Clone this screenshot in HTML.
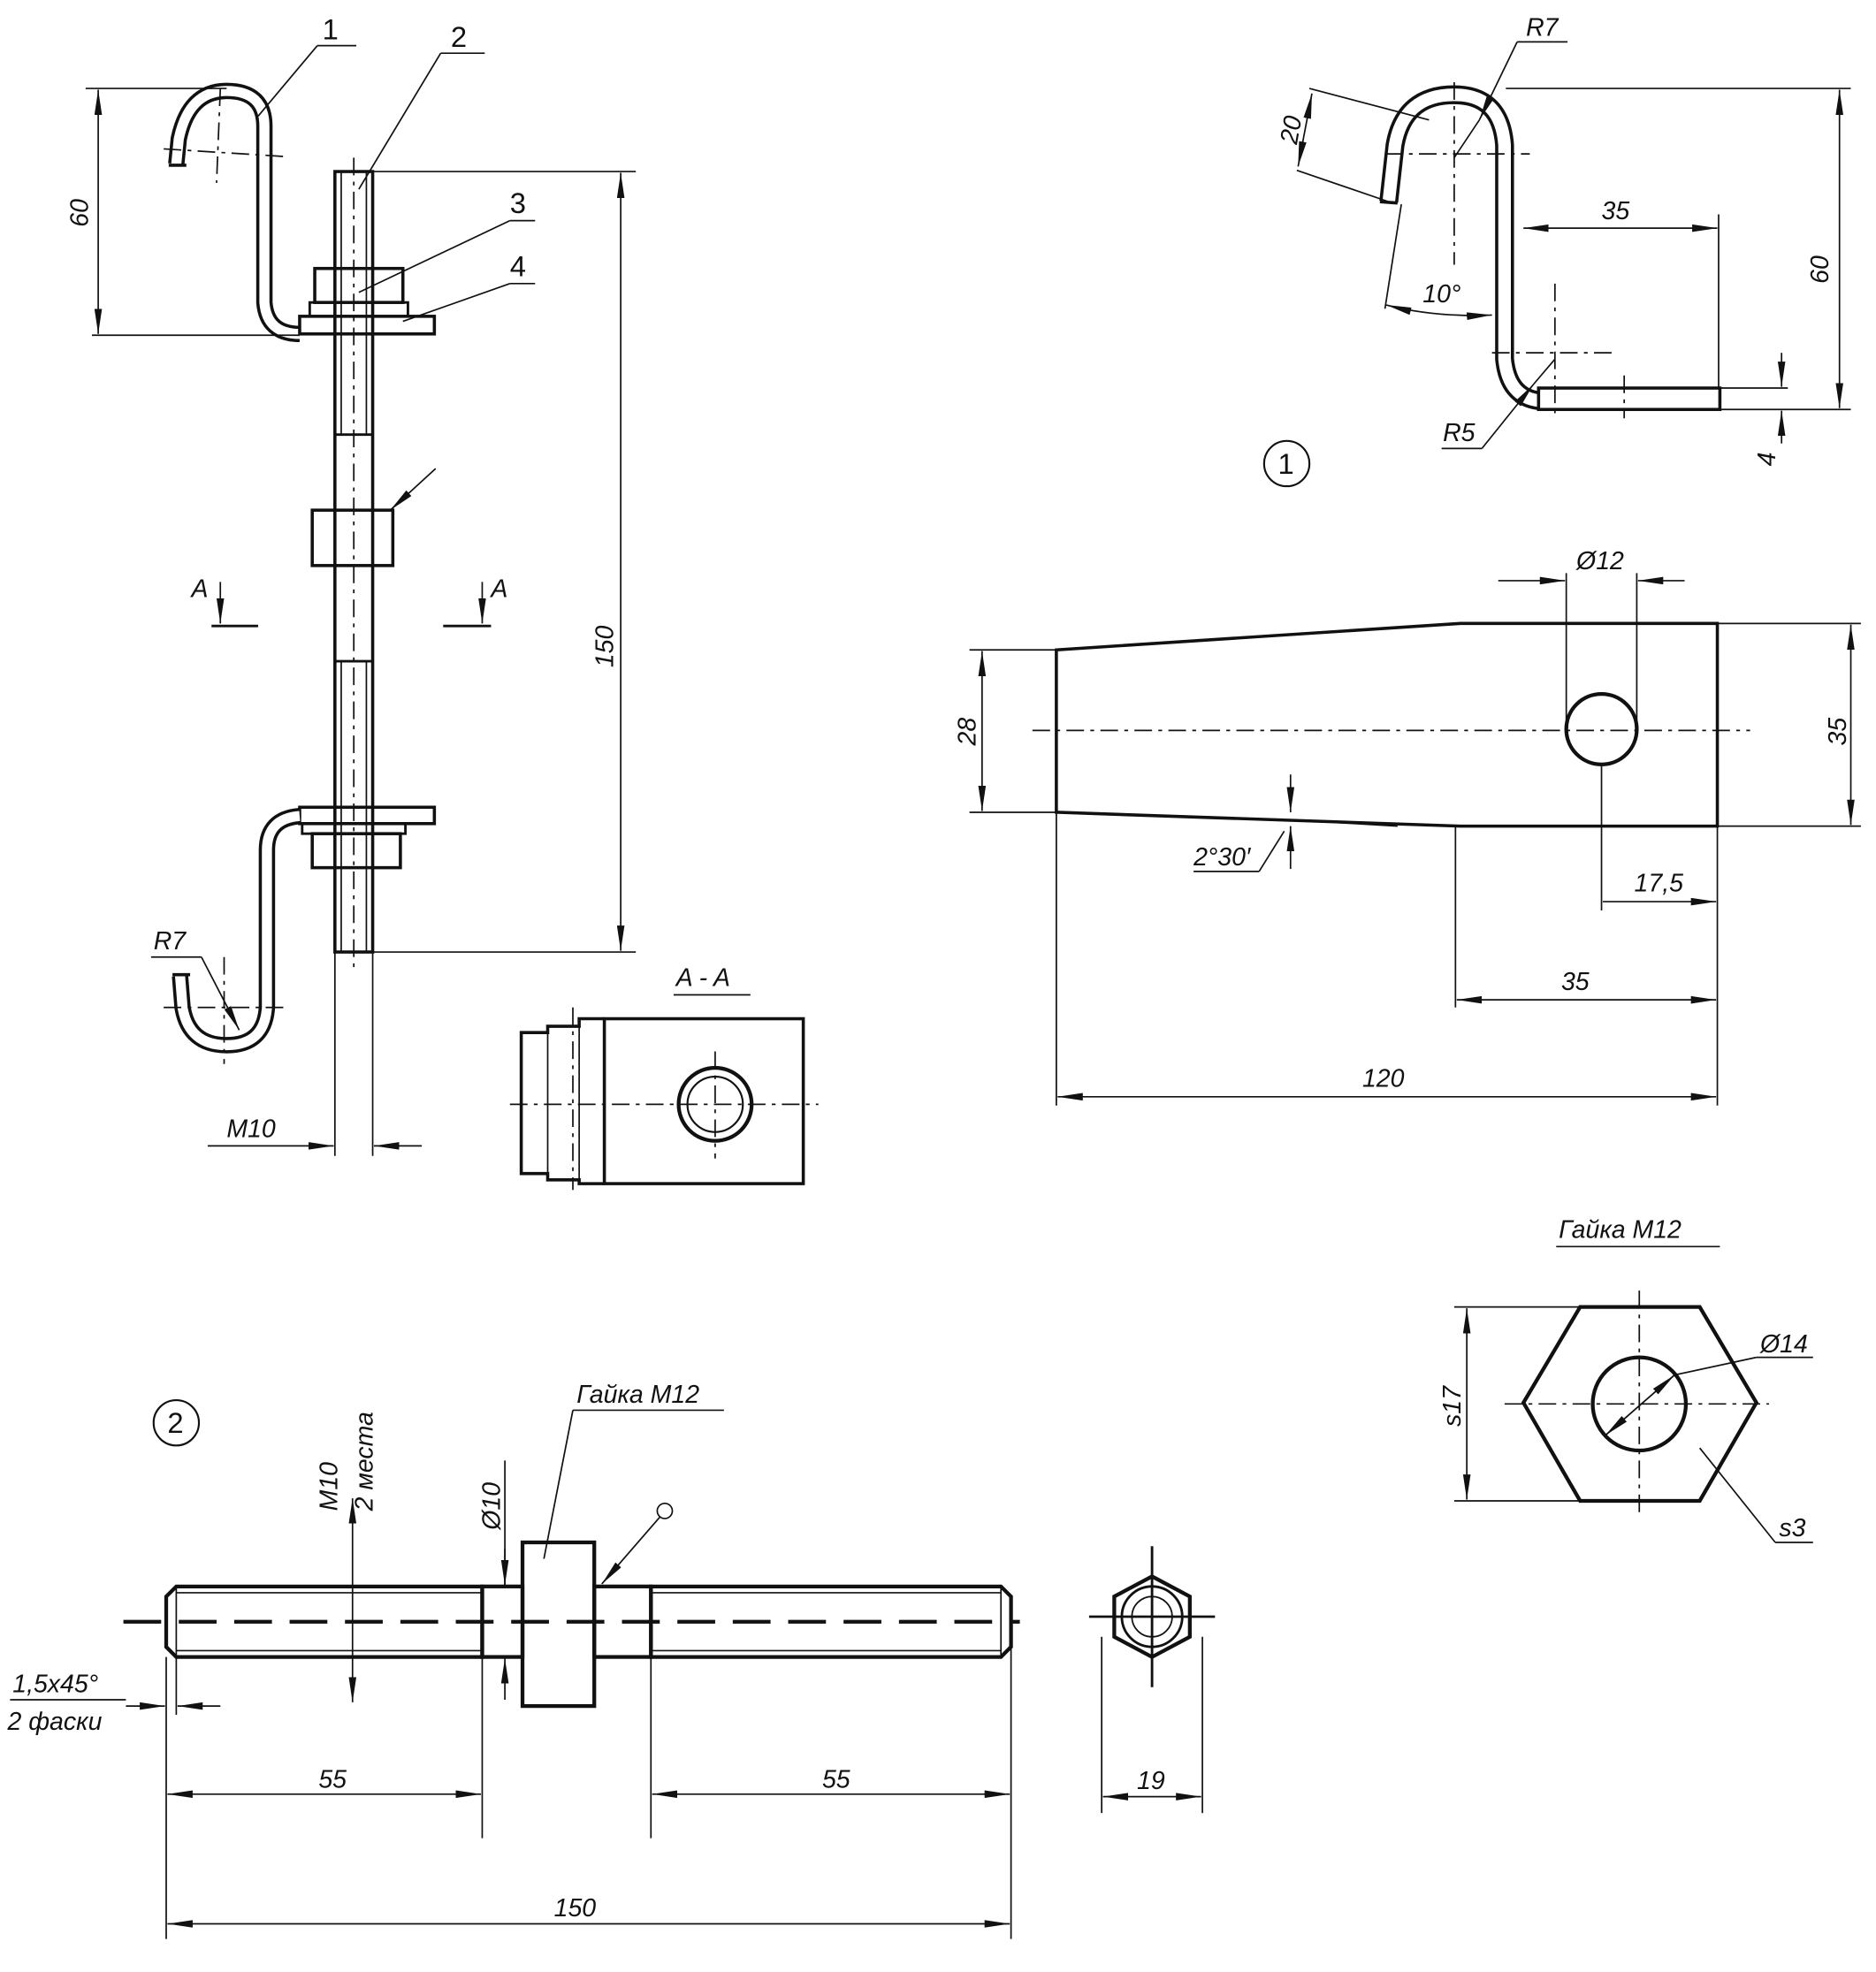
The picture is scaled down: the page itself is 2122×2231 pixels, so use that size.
<!DOCTYPE html>
<html><head><meta charset="utf-8"><style>
html,body{margin:0;padding:0;background:#fff}
svg{display:block}
text{font-family:"Liberation Sans","Noto Sans CJK SC",sans-serif;font-style:italic;font-size:20px;fill:#111}
.n{font-size:23px;font-style:normal}
.k{stroke:#111;stroke-width:3;fill:none}
.t{stroke:#111;stroke-width:1.2;fill:none}
.d{stroke:#111;stroke-width:1.2;fill:none;stroke-dasharray:14 5 3 5}
.a{stroke:#111;stroke-width:1.2;fill:none;marker-start:url(#ar);marker-end:url(#ar)}
.e{stroke:#111;stroke-width:1.2;fill:none;marker-end:url(#ar)}
</style></head><body>
<svg width="2122" height="2231" viewBox="0 0 1490 1566" xmlns="http://www.w3.org/2000/svg">
<defs><marker id="ar" viewBox="0 0 20 6" refX="20" refY="3" markerWidth="20" markerHeight="6" orient="auto-start-reverse" markerUnits="userSpaceOnUse"><path d="M0,0 L20,3 L0,6 Z" fill="#111"/></marker></defs>
<rect width="1490" height="1566" fill="#fff"/>

<!-- LEFT ASSEMBLY -->
<rect class="k" x="266" y="136" width="30" height="620" style="stroke-width:2.5"/>
<line class="t" x1="271" y1="136" x2="271" y2="345"/><line class="t" x1="291" y1="136" x2="291" y2="345"/>
<line class="k" x1="266" y1="345" x2="296" y2="345" style="stroke-width:2"/>
<line class="k" x1="266" y1="525" x2="296" y2="525" style="stroke-width:2"/>
<line class="t" x1="271" y1="525" x2="271" y2="756"/><line class="t" x1="291" y1="525" x2="291" y2="756"/>
<line class="d" x1="281" y1="125" x2="281" y2="770"/>
<path d="M140,130 L142,110 Q150,72 180,72 Q210,72 210,100 L210,240 Q212,265 238,265" fill="none" stroke="#111" stroke-width="13"/>
<path d="M140,130 L142,110 Q150,72 180,72 Q210,72 210,100 L210,240 Q212,265 238,265" fill="none" stroke="#fff" stroke-width="8"/>
<line class="k" x1="134" y1="131" x2="148" y2="131" style="stroke-width:2.5"/>
<line class="d" x1="130" y1="118" x2="225" y2="124"/><line class="d" x1="175" y1="70" x2="172" y2="145"/>
<rect class="k" x="238" y="251" width="107" height="14" style="stroke-width:2.5"/>
<rect class="k" x="246" y="240" width="78" height="11" style="stroke-width:2"/>
<rect class="k" x="250" y="213" width="70" height="27" style="stroke-width:2.5"/>
<rect class="k" x="248" y="405" width="64" height="44" style="stroke-width:2.5"/>
<line class="e" x1="346" y1="372" x2="310" y2="405"/>
<rect class="k" x="238" y="641" width="107" height="13" style="stroke-width:2.5"/>
<rect class="k" x="240" y="654" width="82" height="8" style="stroke-width:2"/>
<rect class="k" x="248" y="662" width="70" height="27" style="stroke-width:2.5"/>
<path d="M238,648 Q212,650 212,675 L212,800 Q210,830 180,830 Q150,830 145,800 L143,775" fill="none" stroke="#111" stroke-width="13"/>
<path d="M238,648 Q212,650 212,675 L212,800 Q210,830 180,830 Q150,830 145,800 L143,775" fill="none" stroke="#fff" stroke-width="8"/>
<line class="k" x1="137" y1="774" x2="151" y2="774" style="stroke-width:2.5"/>
<line class="d" x1="130" y1="800" x2="230" y2="800"/><line class="d" x1="178" y1="760" x2="178" y2="845"/>
<line class="t" x1="205" y1="92" x2="252" y2="36"/><line class="t" x1="252" y1="36" x2="283" y2="36"/><text class="n" x="256" y="31">1</text>
<line class="t" x1="285" y1="150" x2="350" y2="42"/><line class="t" x1="350" y1="42" x2="385" y2="42"/><text class="n" x="358" y="37">2</text>
<line class="t" x1="285" y1="232" x2="405" y2="175"/><line class="t" x1="405" y1="175" x2="425" y2="175"/><text class="n" x="405" y="169">3</text>
<line class="t" x1="320" y1="255" x2="405" y2="225"/><line class="t" x1="405" y1="225" x2="425" y2="225"/><text class="n" x="405" y="219">4</text>
<line class="t" x1="68" y1="70" x2="180" y2="70"/><line class="t" x1="73" y1="266" x2="238" y2="266"/>
<line class="a" x1="78" y1="71" x2="78" y2="265"/>
<text transform="translate(70,180) rotate(-90)">60</text>
<line class="t" x1="296" y1="136" x2="505" y2="136"/><line class="t" x1="296" y1="756" x2="505" y2="756"/>
<line class="a" x1="493" y1="137" x2="493" y2="755"/>
<text transform="translate(487,530) rotate(-90)">150</text>
<line class="t" x1="120" y1="760" x2="160" y2="760"/><line class="e" x1="160" y1="760" x2="190" y2="818"/><text x="122" y="754">R7</text>
<line class="e" x1="165" y1="910" x2="265" y2="910"/><line class="e" x1="335" y1="910" x2="297" y2="910"/>
<line class="t" x1="266" y1="756" x2="266" y2="918"/><line class="t" x1="296" y1="756" x2="296" y2="918"/>
<text x="180" y="903">M10</text>
<text x="152" y="474">A</text><line class="e" x1="175" y1="462" x2="175" y2="495"/><line class="k" x1="168" y1="497" x2="205" y2="497" style="stroke-width:2"/>
<text x="390" y="474">A</text><line class="e" x1="383" y1="462" x2="383" y2="495"/><line class="k" x1="352" y1="497" x2="390" y2="497" style="stroke-width:2"/>
<text x="537" y="783">A - A</text><line class="t" x1="535" y1="790" x2="596" y2="790"/>
<rect class="k" x="480" y="809" width="158" height="131" style="stroke-width:2.5"/>
<path class="k" d="M480,809 L460,809 L460,815 L435,815 L435,820 L414,820 L414,932 L435,932 L435,937 L460,937 L460,940 L480,940" style="stroke-width:2.5"/>
<line class="t" x1="435" y1="820" x2="435" y2="932"/><line class="t" x1="460" y1="815" x2="460" y2="937"/>
<circle cx="568" cy="877" r="29" class="k" style="stroke-width:3"/>
<circle cx="568" cy="877" r="22" fill="none" stroke="#111" stroke-width="1.5"/>
<line class="d" x1="405" y1="877" x2="650" y2="877"/><line class="d" x1="568" y1="835" x2="568" y2="920"/><line class="d" x1="455" y1="800" x2="455" y2="945"/>

<!-- PART 1 -->
<path d="M1103,160 L1108,115 Q1115,75 1155,75 Q1192,75 1195,115 L1195,285 Q1198,315 1222,318" fill="none" stroke="#111" stroke-width="15"/>
<path d="M1103,160 L1108,115 Q1115,75 1155,75 Q1192,75 1195,115 L1195,285 Q1198,315 1222,318" fill="none" stroke="#fff" stroke-width="10"/>
<line class="k" x1="1096" y1="160" x2="1110" y2="161" style="stroke-width:2.5"/>
<rect class="k" x="1222" y="308" width="144" height="17" style="stroke-width:2.5"/>
<line class="d" x1="1100" y1="122" x2="1215" y2="122"/><line class="d" x1="1155" y1="65" x2="1155" y2="210"/>
<line class="d" x1="1185" y1="280" x2="1280" y2="280"/><line class="d" x1="1235" y1="225" x2="1235" y2="330"/>
<line class="d" x1="1290" y1="298" x2="1290" y2="332"/>
<line class="t" x1="1196" y1="70" x2="1470" y2="70"/><line class="t" x1="1366" y1="325" x2="1470" y2="325"/>
<line class="a" x1="1461" y1="71" x2="1461" y2="324"/><text transform="translate(1452,225) rotate(-90)">60</text>
<line class="t" x1="1366" y1="308" x2="1420" y2="308"/>
<line class="e" x1="1415" y1="280" x2="1415" y2="307"/><line class="e" x1="1415" y1="352" x2="1415" y2="326"/>
<text transform="translate(1410,370) rotate(-90)">4</text>
<line class="t" x1="1365" y1="170" x2="1365" y2="308"/>
<line class="a" x1="1210" y1="181" x2="1364" y2="181"/><text x="1272" y="174">35</text>
<line class="t" x1="1040" y1="70" x2="1135" y2="95"/><line class="t" x1="1030" y1="135" x2="1103" y2="160"/>
<line class="a" x1="1042" y1="74" x2="1031" y2="132"/><text transform="translate(1030,115) rotate(-80)">20</text>
<line class="t" x1="1113" y1="162" x2="1100" y2="245"/>
<path class="a" d="M1101,242 Q1140,252 1185,250"/><text x="1130" y="240">10°</text>
<line class="t" x1="1205" y1="33" x2="1245" y2="33"/><line class="e" x1="1205" y1="33" x2="1175" y2="95"/><line class="t" x1="1175" y1="95" x2="1155" y2="125"/><text x="1212" y="28">R7</text>
<line class="t" x1="1145" y1="356" x2="1177" y2="356"/><line class="e" x1="1177" y1="356" x2="1218" y2="305"/><line class="t" x1="1218" y1="305" x2="1235" y2="285"/><text x="1146" y="350">R5</text>
<circle cx="1022" cy="368" r="18" class="t" style="stroke-width:1.5"/><text class="n" x="1015" y="376">1</text>

<!-- PLATE VIEW -->
<path class="k" d="M839,516 L1160,495 L1364,495 L1364,656 L1160,656 L839,645 Z" style="stroke-width:2.5"/>
<circle cx="1272" cy="579" r="28" class="k"/>
<line class="d" x1="820" y1="580" x2="1390" y2="580"/>
<line class="t" x1="1244" y1="455" x2="1244" y2="579"/><line class="t" x1="1300" y1="455" x2="1300" y2="579"/>
<line class="e" x1="1190" y1="461" x2="1243" y2="461"/><line class="e" x1="1338" y1="461" x2="1301" y2="461"/><text x="1252" y="452">Ø12</text>
<line class="t" x1="770" y1="516" x2="839" y2="516"/><line class="t" x1="770" y1="645" x2="839" y2="645"/>
<line class="a" x1="780" y1="517" x2="780" y2="644"/><text transform="translate(775,592) rotate(-90)">28</text>
<line class="t" x1="1364" y1="495" x2="1478" y2="495"/><line class="t" x1="1364" y1="656" x2="1478" y2="656"/>
<line class="a" x1="1470" y1="496" x2="1470" y2="655"/><text transform="translate(1466,592) rotate(-90)">35</text>
<line class="e" x1="1025" y1="615" x2="1025" y2="645"/><line class="e" x1="1025" y1="690" x2="1025" y2="656"/>
<line class="t" x1="1025" y1="651" x2="1110" y2="656"/>
<line class="t" x1="948" y1="692" x2="1000" y2="692"/><line class="t" x1="1000" y1="692" x2="1020" y2="660"/><text x="948" y="687">2°30′</text>
<line class="t" x1="1272" y1="608" x2="1272" y2="723"/><line class="t" x1="1364" y1="656" x2="1364" y2="878"/>
<line class="e" x1="1273" y1="716" x2="1363" y2="716"/><text x="1298" y="708">17,5</text>
<line class="t" x1="1156" y1="656" x2="1156" y2="800"/>
<line class="a" x1="1157" y1="794" x2="1363" y2="794"/><text x="1240" y="786">35</text>
<line class="t" x1="839" y1="645" x2="839" y2="878"/>
<line class="a" x1="840" y1="871" x2="1363" y2="871"/><text x="1082" y="863">120</text>

<!-- HEX NUT -->
<text x="1238" y="983">Гайка М12</text><line class="t" x1="1236" y1="990" x2="1366" y2="990"/>
<path class="k" d="M1210,1114 L1255,1038 L1350,1038 L1395,1114 L1350,1192 L1255,1192 Z"/>
<circle cx="1302" cy="1115" r="37" class="k"/>
<line class="d" x1="1195" y1="1115" x2="1405" y2="1115"/><line class="d" x1="1302" y1="1025" x2="1302" y2="1205"/>
<line class="t" x1="1155" y1="1038" x2="1255" y2="1038"/><line class="t" x1="1155" y1="1192" x2="1255" y2="1192"/>
<line class="a" x1="1165" y1="1039" x2="1165" y2="1191"/><text transform="translate(1160,1133) rotate(-90)">s17</text>
<line class="a" x1="1275" y1="1140" x2="1330" y2="1092"/><line class="t" x1="1330" y1="1092" x2="1395" y2="1078"/><line class="t" x1="1395" y1="1078" x2="1440" y2="1078"/><text x="1398" y="1074">Ø14</text>
<line class="t" x1="1350" y1="1150" x2="1410" y2="1225"/><line class="t" x1="1410" y1="1225" x2="1440" y2="1225"/><text x="1413" y="1220">s3</text>

<!-- PART 2 STUD -->
<circle cx="140" cy="1130" r="18" class="t" style="stroke-width:1.5"/><text class="n" x="133" y="1138">2</text>
<path class="k" d="M140,1260 L383,1260 L383,1316 L140,1316 L132,1308 L132,1268 Z"/>
<line class="t" x1="140" y1="1265" x2="383" y2="1265"/><line class="t" x1="140" y1="1311" x2="383" y2="1311"/>
<line class="t" x1="140" y1="1260" x2="140" y2="1316"/>
<rect class="k" x="383" y="1260" width="32" height="56"/>
<rect class="k" x="415" y="1225" width="57" height="130"/>
<rect class="k" x="472" y="1260" width="45" height="56"/>
<path class="k" d="M517,1260 L795,1260 L803,1268 L803,1308 L795,1316 L517,1316 Z"/>
<line class="t" x1="517" y1="1265" x2="795" y2="1265"/><line class="t" x1="517" y1="1311" x2="795" y2="1311"/>
<line class="t" x1="795" y1="1260" x2="795" y2="1316"/>
<line x1="98" y1="1288" x2="810" y2="1288" stroke="#111" stroke-width="3" stroke-dasharray="30 14"/>
<path class="k" d="M915,1252 L945,1268 L945,1300 L915,1316 L885,1300 L885,1268 Z"/>
<circle cx="915" cy="1284" r="24" class="k" style="stroke-width:2"/>
<circle cx="915" cy="1284" r="16" class="t"/>
<line class="k" x1="865" y1="1284" x2="965" y2="1284" style="stroke-width:2"/><line class="k" x1="915" y1="1228" x2="915" y2="1340" style="stroke-width:2"/>
<line class="t" x1="875" y1="1300" x2="875" y2="1440"/><line class="t" x1="955" y1="1300" x2="955" y2="1440"/>
<line class="a" x1="876" y1="1427" x2="954" y2="1427"/><text x="903" y="1421">19</text>
<line class="a" x1="280" y1="1190" x2="280" y2="1352"/>
<text transform="translate(268,1200) rotate(-90)">M10</text><text transform="translate(296,1200) rotate(-90)">2 места</text>
<line class="t" x1="401" y1="1160" x2="401" y2="1260"/><line class="e" x1="401" y1="1230" x2="401" y2="1259"/><line class="e" x1="401" y1="1350" x2="401" y2="1317"/>
<text transform="translate(397,1215) rotate(-90)">Ø10</text>
<line class="t" x1="432" y1="1238" x2="455" y2="1120"/><line class="t" x1="455" y1="1120" x2="575" y2="1120"/><text x="458" y="1114">Гайка М12</text>
<circle cx="528" cy="1200" r="6" class="t"/><line class="e" x1="524" y1="1205" x2="478" y2="1258"/>
<line class="t" x1="132" y1="1316" x2="132" y2="1540"/><line class="t" x1="140" y1="1316" x2="140" y2="1362"/>
<line class="e" x1="100" y1="1355" x2="131" y2="1355"/><line class="e" x1="175" y1="1355" x2="141" y2="1355"/>
<line class="t" x1="8" y1="1350" x2="100" y2="1350"/>
<text x="10" y="1344">1,5x45°</text><text x="6" y="1374">2 фаски</text>
<line class="t" x1="383" y1="1316" x2="383" y2="1460"/><line class="t" x1="517" y1="1316" x2="517" y2="1460"/>
<line class="t" x1="803" y1="1308" x2="803" y2="1540"/>
<line class="a" x1="133" y1="1425" x2="382" y2="1425"/><text x="253" y="1420">55</text>
<line class="a" x1="518" y1="1425" x2="802" y2="1425"/><text x="653" y="1420">55</text>
<line class="a" x1="133" y1="1528" x2="802" y2="1528"/><text x="440" y="1522">150</text>
</svg>
</body></html>
